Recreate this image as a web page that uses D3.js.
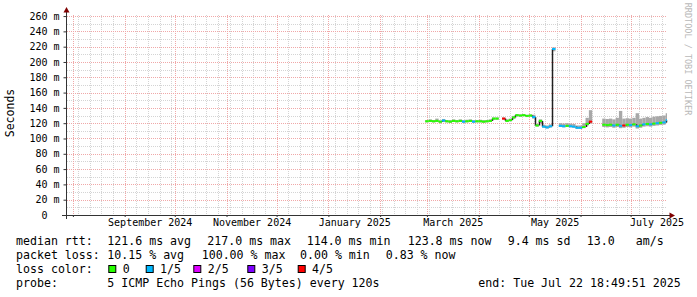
<!DOCTYPE html>
<html>
<head>
<meta charset="utf-8">
<script src="https://cdn.jsdelivr.net/npm/d3@7"></script>
<style>
body { margin: 0; background: #fff; }
svg { display: block; font-family: "DejaVu Sans Mono", monospace; }
</style>
</head>
<body>
<div id="chart"></div>
<script>
// time axis of the graph
const graphStart = "2024-07-28T11:10:00Z";
const graphEnd = "2025-07-22T18:49:51Z";
const firstSample = "2025-02-28T00:00:00Z";
const stepDays = 2;

// median rtt per sample (ms), null = no data
const medianMs = [
  122.5, 123, 122.5, 123, 122, 123.5, 122.5, 122, 123, 122.5,
  123, 122, 122.5, 123, 122, 122.5, 122.5, 122, 122.5, 123,
  126, 126, null, 126, 123, 124, 127.5, 130.5, 130, 130.5,
  129.5, 130, 128, 117, 123, 115.5, 114.5, 116, 217, null,
  116.5, 116, 116.5, 116, 115.5, 114, 114, 115, 119, 122,
  null, null, null, 118, 117.5, 118, 117, 118, 116.5, 117,
  118, 117.5, 118.5, 116, 117, 118.5, 119, 118.5, 119.5, 120,
  120.5, 121, 123.8
];
// lost pings out of 5 per sample
const lossOf5 = [
  0, 0, 0, 0, 0, 1, 0, 0, 0, 0,
  0, 1, 0, 0, 1, 0, 0, 0, 0, 0,
  0, 0, 0, 4, 0, 0, 0, 0, 0, 0,
  0, 0, 1, 0, 0, 1, 1, 1, 1, 0,
  1, 1, 0, 1, 1, 1, 1, 0, 0, 4,
  0, 0, 0, 0, 0, 0, 1, 0, 1, 4,
  0, 1, 0, 1, 0, 1, 0, 1, 0, 1,
  0, 1, 1
];
// smoke (spread of the pings) per sample, ms
const smokeLo = [
  121, 121.5, 121, 121.5, 120.5, 121.5, 121, 120.5, 121.5, 121,
  121.5, 120.5, 121, 121.5, 120.5, 121, 121, 120.5, 121, 121.5,
  124.5, 124.5, null, 124.5, 121.5, 122.5, 126, 129, 128.5, 129,
  128, 128.5, 126, 115.5, 120, 114, 113, 114.5, 214, null,
  115, 114.5, 115, 114.5, 114, 112.5, 112.5, 113.5, 117, 120,
  null, null, null, 115, 114.5, 115, 114, 115, 113.5, 114,
  115, 114.5, 115.5, 113, 114, 115.5, 116, 115.5, 116.5, 117,
  117.5, 118, 120
];
const smokeHi = [
  124, 125, 124, 126, 123.5, 125.5, 124, 124, 125, 124,
  125, 124, 124.5, 125, 124, 124, 124.5, 124, 124, 125,
  127.5, 127.5, null, 127.5, 125, 126, 129.5, 132, 131.5, 132,
  131, 131.5, 131, 119, 125, 118, 117, 118.5, 219, null,
  120, 119.5, 120, 119.5, 119, 117, 117, 120, 127, 137,
  null, null, null, 126, 125.5, 126, 125, 127, 136, 126,
  126.5, 126, 127, 133, 126, 127, 128, 127, 128.5, 129,
  129.5, 130, 133
];

const yTicksMs = [0, 20, 40, 60, 80, 100, 120, 140, 160, 180, 200, 220, 240, 260];
const monthLabels = ["September 2024", "November 2024", "January 2025", "March 2025", "May 2025", "July 2025"];
const lossColors = ["#26ff00", "#00b8ff", "#dd00ff", "#7e00ff", "#ff0000"];
const lossLabels = ["0", "1/5", "2/5", "3/5", "4/5"];
const rttStats = ["121.6 ms avg", "217.0 ms max", "114.0 ms min", "123.8 ms now", "9.4 ms sd", "13.0", "am/s"];
const lossStats = ["10.15 % avg", "100.00 % max", "0.00 % min", "0.83 % now"];
const probeText = "5 ICMP Echo Pings (56 Bytes) every 120s";
const endText = "end: Tue Jul 22 18:49:51 2025";

// layout
const W = 697, H = 297;
const plot = { left: 67, right: 667, top: 15, bottom: 215 };
const rttX = [107.3, 207.3, 306.7, 407.7, 507.7, 586.7, 635.7];
const lossX = [107.3, 201.7, 300, 385.7];
const boxX = [108.3, 145.7, 193.3, 247.3, 297.7];
const rowY = [245, 259, 273, 287];

const svg = d3.select("#chart").append("svg")
  .attr("width", W)
  .attr("height", H);

svg.append("rect").attr("width", W).attr("height", H).attr("fill", "#fff");

const t0 = new Date(graphStart), t1 = new Date(graphEnd);
const x = d3.scaleUtc().domain([t0, t1]).range([plot.left, plot.right]);
const y = d3.scaleLinear().domain([0, 261.4]).range([plot.bottom, plot.top]);
const px = v => Math.round(v) + 0.5;

/*### grid ###*/
const months = d3.utcMonth.range(t0, t1);
const weeks = d3.utcSunday.range(t0, t1).filter(d => d.getUTCDate() !== 1);
const grid = svg.append("g").attr("stroke-width", 1).attr("stroke-dasharray", "1,1");

grid.selectAll(".wk").data(weeks).join("line")
  .attr("x1", d => px(x(d))).attr("x2", d => px(x(d)))
  .attr("y1", plot.top).attr("y2", plot.bottom)
  .attr("stroke", "#d4d4d4");
grid.selectAll(".minY").data(d3.range(10, 261, 20)).join("line")
  .attr("x1", plot.left).attr("x2", plot.right)
  .attr("y1", d => px(y(d))).attr("y2", d => px(y(d)))
  .attr("stroke", "#d4d4d4");
grid.selectAll(".mo").data(months).join("line")
  .attr("x1", d => px(x(d))).attr("x2", d => px(x(d)))
  .attr("y1", plot.top).attr("y2", plot.bottom)
  .attr("stroke", "#f0a8a8");
grid.selectAll(".majY").data(yTicksMs.filter(d => d > 0)).join("line")
  .attr("x1", plot.left).attr("x2", plot.right)
  .attr("y1", d => px(y(d))).attr("y2", d => px(y(d)))
  .attr("stroke", "#f0a8a8");

/*### samples ###*/
const s0 = new Date(firstSample);
const samples = medianMs.map((m, i) => {
  const a = d3.utcDay.offset(s0, i * stepDays);
  const b = d3.utcDay.offset(s0, (i + 1) * stepDays);
  return { a, b: b > t1 ? t1 : b, m, loss: lossOf5[i], lo: smokeLo[i], hi: smokeHi[i] };
});
const valid = samples.filter(d => d.m != null);

// smoke
svg.append("g").selectAll("rect").data(valid).join("rect")
  .attr("x", d => x(d.a))
  .attr("width", d => x(d.b) - x(d.a))
  .attr("y", d => y(d.hi))
  .attr("height", d => y(d.lo) - y(d.hi))
  .attr("fill", "#a8a8a8");

// vertical connectors of the median
const steps = samples.slice(1).map((d, i) => ({ prev: samples[i], cur: d }))
  .filter(d => d.prev.m != null && d.cur.m != null);
svg.append("g").selectAll("line").data(steps).join("line")
  .attr("x1", d => px(x(d.cur.a))).attr("x2", d => px(x(d.cur.a)))
  .attr("y1", d => y(d.prev.m)).attr("y2", d => y(d.cur.m))
  .attr("stroke", "#202020")
  .attr("stroke-width", 1.5);

// median coloured by loss
svg.append("g").selectAll("line").data(valid).join("line")
  .attr("x1", d => x(d.a)).attr("x2", d => x(d.b))
  .attr("y1", d => y(d.m)).attr("y2", d => y(d.m))
  .attr("stroke", d => lossColors[d.loss])
  .attr("stroke-width", 2);

/*### axes ###*/
const yAxis = svg.append("g")
  .attr("transform", "translate(66.5,0)")
  .call(d3.axisLeft(y).tickValues(yTicksMs).tickSize(3).tickPadding(3)
    .tickFormat(d => d === 0 ? "0" : d + " m"));
yAxis.select(".domain").remove();
yAxis.selectAll(".tick line").attr("stroke", "#333");
yAxis.selectAll(".tick text")
  .attr("font-family", "DejaVu Sans Mono")
  .attr("font-size", 10)
  .attr("fill", "#000")
  .attr("dx", d => d === 0 ? -13 : -1);

const xTicks = svg.append("g")
  .attr("transform", "translate(0," + plot.bottom + ")")
  .call(d3.axisBottom(x).tickValues(months).tickSize(2).tickFormat(""));
xTicks.select(".domain").remove();
xTicks.selectAll(".tick line").attr("stroke", "#333");

const labelDates = monthLabels.map(s => {
  const m = d3.utcParse("%B %Y")(s);
  return new Date((+m + +d3.utcMonth.offset(m, 1)) / 2);
});
const xLab = svg.append("g")
  .attr("transform", "translate(0," + plot.bottom + ")")
  .call(d3.axisBottom(x).tickValues(labelDates).tickSize(0).tickPadding(4)
    .tickFormat((d, i) => monthLabels[i]));
xLab.select(".domain").remove();
xLab.selectAll("text")
  .attr("font-family", "DejaVu Sans Mono")
  .attr("font-size", 10)
  .attr("fill", "#000");

// axis lines with arrows
svg.append("line").attr("x1", 66.5).attr("x2", 66.5).attr("y1", 219).attr("y2", 11)
  .attr("stroke", "#333");
svg.append("line").attr("x1", 62).attr("x2", 671).attr("y1", 215.5).attr("y2", 215.5)
  .attr("stroke", "#333");
svg.append("path").attr("d", "M63.5,12.5L69.5,12.5L66.5,7Z").attr("fill", "#7f0000");
svg.append("path").attr("d", "M669.5,212.5L669.5,218.5L675,215.5Z").attr("fill", "#7f0000");

// axis title and watermark
svg.append("text")
  .attr("transform", "translate(14,113) rotate(-90)")
  .attr("text-anchor", "middle")
  .attr("font-size", 11.5)
  .text("Seconds");
svg.append("text")
  .attr("transform", "translate(685,59) rotate(90)")
  .attr("text-anchor", "middle")
  .attr("font-size", 8.5)
  .attr("fill", "#b8b8b8")
  .text("RRDTOOL / TOBI OETIKER");

/*### legend ###*/
const leg = svg.append("g").attr("font-size", 11.6).attr("fill", "#000")
  .style("white-space", "pre");
leg.append("text").attr("x", 16).attr("y", rowY[0]).text("median rtt:");
leg.selectAll(".rtt").data(rttStats).join("text")
  .attr("x", (d, i) => rttX[i]).attr("y", rowY[0]).text(d => d);
leg.append("text").attr("x", 16).attr("y", rowY[1]).text("packet loss:");
leg.selectAll(".pl").data(lossStats).join("text")
  .attr("x", (d, i) => lossX[i]).attr("y", rowY[1]).text(d => d);
leg.append("text").attr("x", 16).attr("y", rowY[2]).text("loss color:");
leg.selectAll(".box").data(lossColors).join("rect")
  .attr("x", (d, i) => boxX[i] + 0.5).attr("y", 265.5)
  .attr("width", 7).attr("height", 7)
  .attr("fill", d => d).attr("stroke", "#000");
leg.selectAll(".lc").data(lossLabels).join("text")
  .attr("x", (d, i) => boxX[i] + 14.4).attr("y", rowY[2]).text(d => d);
leg.append("text").attr("x", 16).attr("y", rowY[3]).text("probe:");
leg.append("text").attr("x", 107.3).attr("y", rowY[3]).text(probeText);
leg.append("text").attr("x", 478.3).attr("y", rowY[3]).text(endText);
</script>
</body>
</html>
